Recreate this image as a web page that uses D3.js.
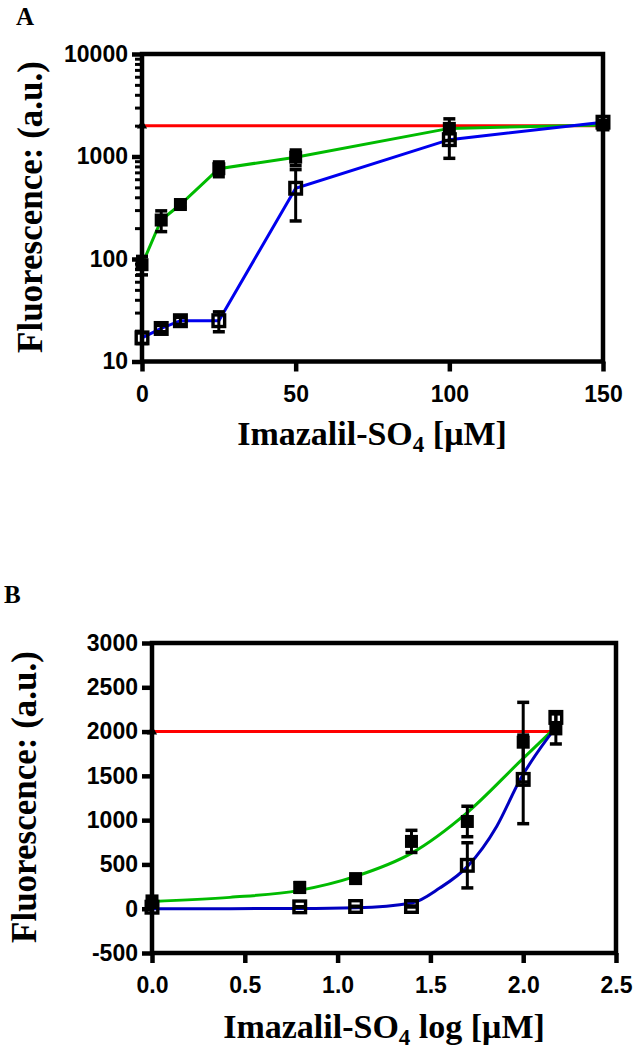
<!DOCTYPE html>
<html>
<head>
<meta charset="utf-8">
<script src="https://cdn.jsdelivr.net/npm/d3@7"></script>
<style>
  body { margin: 0; background: #fff; }
  .tick text { font-family: "Liberation Sans", Arial, sans-serif; font-weight: bold; font-size: 23px; fill: #000; }
  .title { font-family: "Liberation Serif", "Times New Roman", serif; font-weight: bold; fill: #000; }
</style>
</head>
<body>
<svg width="633" height="1050"></svg>
<script>
// data
const conc = [0, 6.25, 12.5, 25, 50, 100, 150];          // µM (panel A)
const logConc = [0, 0.796, 1.097, 1.398, 1.699, 2.0, 2.176]; // panel B x
const filledMean = [88, 240, 340, 760, 985, 1880, 2030];
const filledErr  = [18, 55, 20, 125, 172, 450, 170];
const openMean   = [17, 21, 25, 25, 490, 1460, 2160];
const openErr    = [2, 1.5, 2, 5.5, 255, 500, 60];
const controlConc = [0, 150];
const controlLog  = [0, 2.176];
const controlValue = [2000, 2000];
// fitted curves in panel B (read as points)
const fitFilledX = [0, 0.42, 0.794, 1.096, 1.399, 1.695, 1.983, 2.176];
const fitFilledY = [82, 128, 207, 365, 628, 1080, 1663, 2050];
const fitOpenX = [0, 0.8, 1.1, 1.4, 1.55, 1.7, 1.857, 1.983, 2.176];
const fitOpenY = [0, 2, 10, 64, 233, 478, 929, 1456, 2050];

const xTicksA = [0, 50, 100, 150];
const yTicksA = [10, 100, 1000, 10000];
const xTicksB = [0, 0.5, 1.0, 1.5, 2.0, 2.5];
const yTicksB = [-500, 0, 500, 1000, 1500, 2000, 2500, 3000];

const green = '#00bb00', blue = '#0000ee', blueB = '#0000c0', red = '#ff0000';

const svg = d3.select('svg');

// ---------- panel A ----------
const xA = d3.scaleLinear().domain([0, 150]).range([142, 603]);
const yA = d3.scaleLog().domain([10, 10000]).range([361.5, 54]);

// ---------- panel B ----------
const xB = d3.scaleLinear().domain([0, 2.5]).range([152, 616]);
const yB = d3.scaleLinear().domain([-500, 3000]).range([953, 643]);

const intFmt = d => String(d);          // plain hyphen for negatives
const decFmt = d => d.toFixed(1);

function frame(x, y) {
  const [x0, x1] = x.range(), [y0, y1] = y.range();
  svg.append('rect')
    .attr('x', x0).attr('y', y1)
    .attr('width', x1 - x0).attr('height', y0 - y1)
    .attr('fill', 'none').attr('stroke', '#000').attr('stroke-width', 4.5);
}

function styleAxis(g, w) {
  g.select('.domain').remove();
  g.selectAll('.tick line').attr('stroke', '#000').attr('stroke-width', w);
}

function axes(x, y, xt, yt, xfmt, yfmt, minor) {
  const [x0] = x.range(), [y0] = y.range();
  svg.append('g').attr('transform', `translate(0,${y0})`)
    .call(d3.axisBottom(x).tickValues(xt).tickFormat(xfmt).tickSize(10).tickPadding(14))
    .call(g => styleAxis(g, 4.5));
  svg.append('g').attr('transform', `translate(${x0},0)`)
    .call(d3.axisLeft(y).tickValues(yt).tickFormat(yfmt).tickSize(10).tickPadding(4))
    .call(g => styleAxis(g, 4.5));
  if (minor) {
    svg.append('g').attr('transform', `translate(${x0},0)`)
      .call(d3.axisLeft(y).tickValues(minor).tickFormat('').tickSize(7))
      .call(g => styleAxis(g, 3));
  }
}

function errorBars(x, y, xs, m, e) {
  const g = svg.append('g').attr('stroke', '#000');
  xs.forEach((xv, i) => {
    const lo = y(m[i] - e[i]), hi = y(m[i] + e[i]), cx = x(xv);
    g.append('line').attr('x1', cx).attr('x2', cx).attr('y1', lo).attr('y2', hi).attr('stroke-width', 3);
    [lo, hi].forEach(v => g.append('line').attr('x1', cx - 6).attr('x2', cx + 6)
      .attr('y1', v).attr('y2', v).attr('stroke-width', 3.5));
  });
}

function squares(x, y, xs, m, filled) {
  const s = filled ? 13 : 11.6;
  svg.append('g').selectAll('rect').data(xs).join('rect')
    .attr('x', d => x(d) - s / 2)
    .attr('y', (d, i) => y(m[i]) - s / 2)
    .attr('width', s).attr('height', s)
    .attr('fill', filled ? '#000' : 'none')
    .attr('stroke', filled ? 'none' : '#000').attr('stroke-width', 3.4);
}

function triangles(x, y, xs, m) {
  svg.append('g').selectAll('path').data(xs).join('path')
    .attr('d', d3.symbol(d3.symbolTriangle, 45))
    .attr('transform', (d, i) => `translate(${x(d)},${y(m[i])})`)
    .attr('fill', '#000');
}

function series(x, y, xs, m, color, curve) {
  svg.append('path')
    .datum(xs.map((d, i) => [d, m[i]]))
    .attr('fill', 'none').attr('stroke', color).attr('stroke-width', 3)
    .attr('d', d3.line().x(d => x(d[0])).y(d => y(d[1])).curve(curve || d3.curveLinear));
}

// panel A
const minorA = [];
[10, 100, 1000].forEach(dec => { for (let k = 2; k <= 9; k++) minorA.push(dec * k); });
axes(xA, yA, xTicksA, yTicksA, intFmt, intFmt, minorA);
series(xA, yA, controlConc, controlValue, red);
series(xA, yA, conc, filledMean, green);
series(xA, yA, conc, openMean, blue);
errorBars(xA, yA, conc, filledMean, filledErr);
errorBars(xA, yA, conc, openMean, openErr);
triangles(xA, yA, controlConc, controlValue);
squares(xA, yA, conc, filledMean, true);
squares(xA, yA, conc, openMean, false);
frame(xA, yA);

// panel B
axes(xB, yB, xTicksB, yTicksB, decFmt, intFmt);
series(xB, yB, controlLog, controlValue, red);
series(xB, yB, fitFilledX, fitFilledY, green, d3.curveMonotoneX);
series(xB, yB, fitOpenX, fitOpenY, blueB, d3.curveMonotoneX);
errorBars(xB, yB, logConc, filledMean, filledErr);
errorBars(xB, yB, logConc, openMean, openErr);
triangles(xB, yB, controlLog.slice(0, 1), controlValue);
squares(xB, yB, logConc, filledMean, true);
squares(xB, yB, logConc, openMean, false);
frame(xB, yB);

// titles
function xTitle(cx, base, extra) {
  const t = svg.append('text').attr('class', 'title')
    .attr('x', cx).attr('y', base).attr('text-anchor', 'middle').attr('font-size', 34);
  t.append('tspan').text('Imazalil-SO');
  t.append('tspan').text('4').attr('font-size', 23).attr('dy', 7);
  t.append('tspan').text(extra + ' [μM]').attr('dy', -7);
}
xTitle(372, 445, '');
xTitle(384, 1038, ' log');

function yTitle(base, cy) {
  svg.append('text').attr('class', 'title')
    .attr('transform', `translate(${base},${cy}) rotate(-90)`)
    .attr('text-anchor', 'middle').attr('font-size', 35)
    .text('Fluorescence: (a.u.)');
}
yTitle(42, 207);
yTitle(36, 797);

svg.append('text').attr('class', 'title').attr('x', 16).attr('y', 25).attr('font-size', 25).text('A');
svg.append('text').attr('class', 'title').attr('x', 4).attr('y', 603).attr('font-size', 25).text('B');
</script>
</body>
</html>
